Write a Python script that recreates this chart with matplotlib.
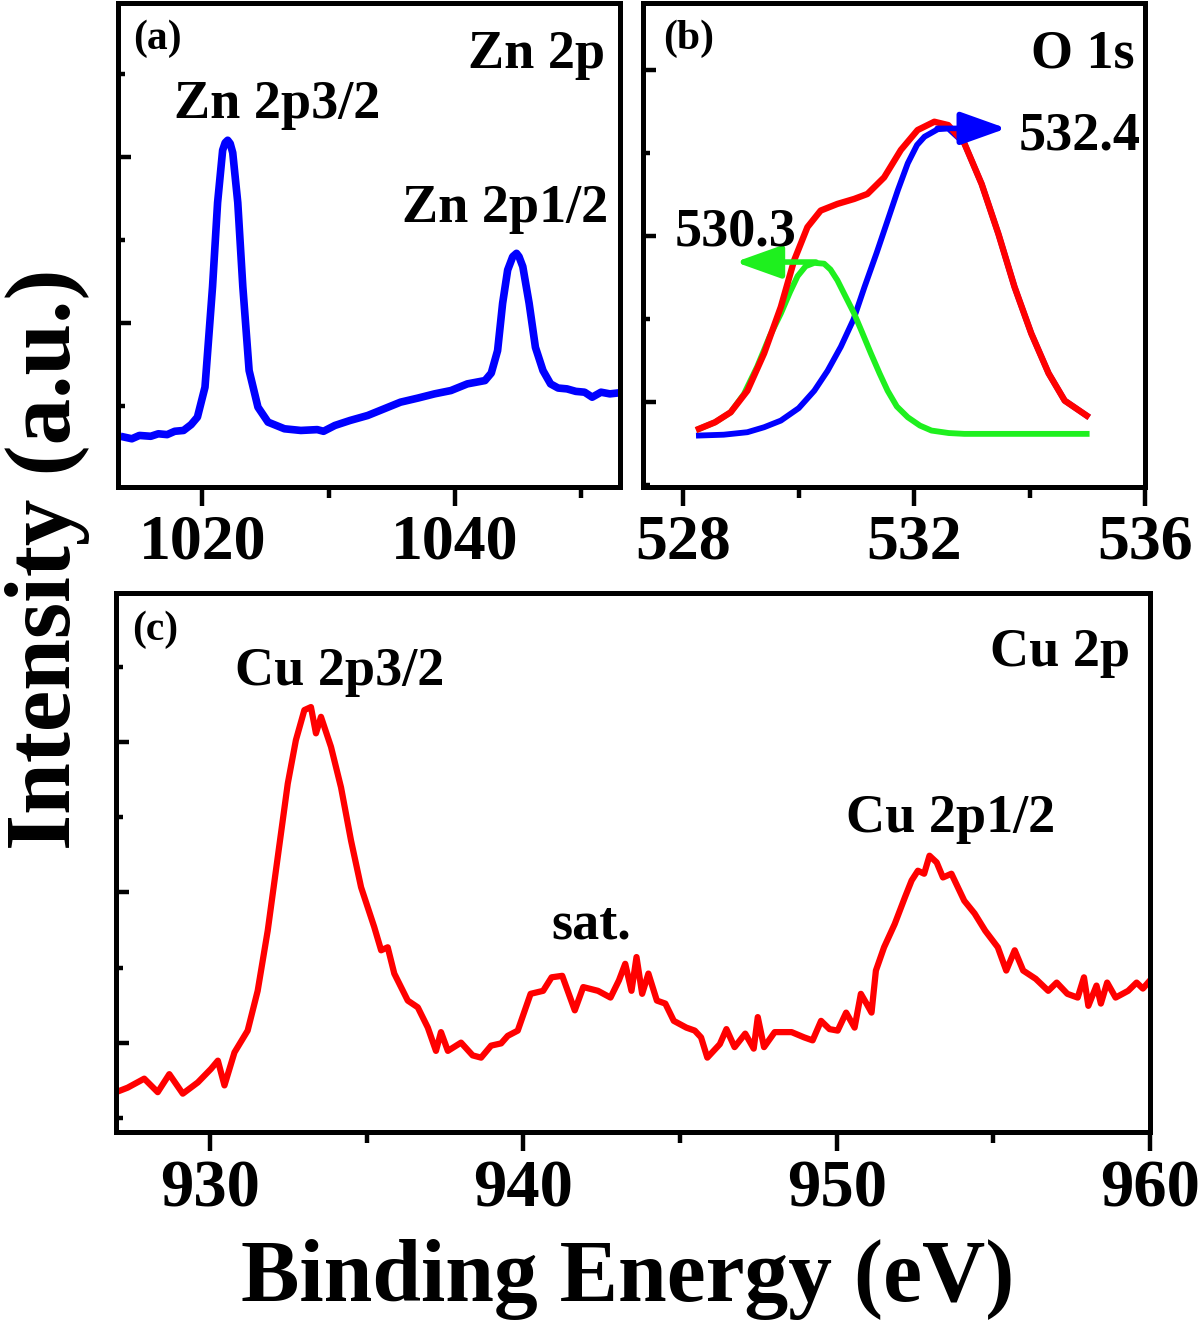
import matplotlib
matplotlib.use('Agg')
import matplotlib.pyplot as plt
from matplotlib.ticker import MultipleLocator

plt.rcParams['font.family'] = 'Liberation Serif'
plt.rcParams['font.weight'] = 'bold'

# ----- (a) Zn 2p -----
zn_e = [1013.8, 1014.4, 1015.0, 1015.9, 1016.5, 1017.2, 1017.8, 1018.5, 1019.1, 1019.6,
        1020.2, 1020.8, 1021.2, 1021.6, 1021.8, 1022.0, 1022.2, 1022.4, 1022.8, 1023.2,
        1023.7, 1024.4, 1025.2, 1026.5, 1027.8, 1029.1, 1029.6, 1030.5, 1031.7, 1033.1,
        1034.4, 1035.7, 1037.1, 1038.4, 1039.7, 1041.0, 1042.4, 1042.9, 1043.4, 1043.8,
        1044.2, 1044.6, 1044.9, 1045.1, 1045.4, 1045.9, 1046.4, 1047.0, 1047.6, 1048.2,
        1048.9, 1049.6, 1050.3, 1050.9, 1051.6, 1052.3, 1052.9]
zn_i = [0.63, 0.61, 0.65, 0.64, 0.67, 0.66, 0.70, 0.71, 0.78, 0.87,
        1.23, 2.44, 3.45, 4.08, 4.17, 4.20, 4.16, 4.05, 3.45, 2.44,
        1.43, 0.99, 0.81, 0.73, 0.71, 0.72, 0.70, 0.77, 0.83, 0.89,
        0.97, 1.05, 1.10, 1.15, 1.19, 1.27, 1.31, 1.40, 1.67, 2.24,
        2.64, 2.80, 2.84, 2.80, 2.68, 2.24, 1.71, 1.43, 1.27, 1.22,
        1.21, 1.18, 1.17, 1.11, 1.17, 1.15, 1.16]

# ----- (b) O 1s -----
o_sum_e = [528.27, 528.55, 528.82, 529.11, 529.40, 529.69, 529.92, 530.15, 530.38, 530.67,
           530.96, 531.19, 531.48, 531.77, 532.06, 532.35, 532.59, 532.87, 533.17, 533.46,
           533.74, 534.03, 534.33, 534.61, 534.99]
o_sum_i = [1.68, 1.76, 1.88, 2.14, 2.59, 3.15, 3.71, 4.11, 4.31, 4.39,
           4.45, 4.51, 4.71, 5.04, 5.28, 5.38, 5.34, 5.12, 4.63, 4.03,
           3.39, 2.83, 2.35, 2.02, 1.84]
o_hi_e = [528.27, 528.70, 529.11, 529.40, 529.69, 530.00, 530.27, 530.50, 530.73, 530.95,
          531.14, 531.35, 531.54, 531.72, 531.89, 532.05, 532.18, 532.41, 532.59, 532.87,
          533.17, 533.46, 533.74, 534.03, 534.33, 534.61, 534.99]
o_hi_i = [1.60, 1.61, 1.64, 1.70, 1.78, 1.93, 2.14, 2.38, 2.67, 3.00,
          3.39, 3.80, 4.19, 4.56, 4.88, 5.10, 5.20, 5.29, 5.30, 5.12,
          4.63, 4.03, 3.39, 2.83, 2.35, 2.02, 1.84]
o_lo_e = [528.27, 528.55, 528.82, 529.05, 529.28, 529.50, 529.69, 529.85, 529.98, 530.12,
          530.27, 530.44, 530.55, 530.67, 530.80, 530.96, 531.10, 531.25, 531.40, 531.54,
          531.70, 531.89, 532.10, 532.30, 532.60, 532.87, 533.50, 534.20, 534.99]
o_lo_i = [1.68, 1.76, 1.88, 2.10, 2.43, 2.80, 3.07, 3.33, 3.52, 3.64,
          3.68, 3.67, 3.60, 3.47, 3.29, 3.07, 2.84, 2.59, 2.35, 2.14,
          1.95, 1.82, 1.72, 1.66, 1.63, 1.62, 1.62, 1.62, 1.62]
o_peaks = [530.3, 532.4]

# ----- (c) Cu 2p -----
cu_e = [927.0, 927.37, 927.9, 928.33, 928.70, 929.13, 929.61, 930.03, 930.25, 930.46,
        930.78, 931.20, 931.52, 931.84, 932.16, 932.48, 932.74, 933.01, 933.22, 933.38,
        933.54, 933.86, 934.18, 934.50, 934.82, 935.24, 935.46, 935.67, 935.88, 936.31,
        936.63, 936.95, 937.21, 937.37, 937.59, 938.01, 938.38, 938.65, 938.97, 939.29,
        939.50, 939.82, 940.23, 940.63, 940.90, 941.24, 941.64, 941.91, 942.38, 942.78,
        943.05, 943.25, 943.45, 943.61, 943.79, 943.99, 944.26, 944.53, 944.80, 945.20,
        945.47, 945.67, 945.87, 946.27, 946.48, 946.74, 947.08, 947.35, 947.48, 947.68,
        948.02, 948.56, 948.96, 949.23, 949.50, 949.77, 950.03, 950.30, 950.57, 950.77,
        950.95, 951.11, 951.25, 951.51, 951.85, 952.18, 952.39, 952.59, 952.79, 952.96,
        953.19, 953.39, 953.66, 954.07, 954.40, 954.74, 955.14, 955.41, 955.68, 955.95,
        956.35, 956.75, 957.02, 957.36, 957.69, 957.89, 958.03, 958.29, 958.43, 958.63,
        958.90, 959.30, 959.57, 959.77, 960.0]
cu_i = [1.34, 1.40, 1.52, 1.34, 1.58, 1.32, 1.47, 1.65, 1.76, 1.43,
        1.87, 2.16, 2.69, 3.49, 4.47, 5.45, 6.03, 6.43, 6.47, 6.12,
        6.34, 5.94, 5.40, 4.69, 4.07, 3.54, 3.23, 3.27, 2.92, 2.56,
        2.47, 2.20, 1.89, 2.14, 1.89, 2.00, 1.83, 1.80, 1.96, 1.99,
        2.09, 2.16, 2.65, 2.69, 2.87, 2.89, 2.43, 2.74, 2.69, 2.60,
        2.83, 3.05, 2.69, 3.14, 2.65, 2.92, 2.56, 2.52, 2.29, 2.20,
        2.16, 2.07, 1.80, 1.98, 2.18, 1.94, 2.12, 1.92, 2.34, 1.94,
        2.14, 2.14, 2.07, 2.03, 2.29, 2.18, 2.16, 2.40, 2.20, 2.65,
        2.52, 2.40, 2.96, 3.27, 3.58, 3.94, 4.16, 4.29, 4.25, 4.49,
        4.40, 4.20, 4.25, 3.89, 3.72, 3.49, 3.27, 2.96, 3.23, 2.96,
        2.85, 2.69, 2.80, 2.65, 2.60, 2.87, 2.49, 2.76, 2.52, 2.80,
        2.60, 2.69, 2.80, 2.72, 2.83]

BLUE, RED, GREEN = '#0000ff', '#ff0000', '#1ef01e'
SPINE = 3.6

fig = plt.figure(figsize=(12, 13.23), dpi=100)
ax_a = fig.add_axes([0.0983, 0.6319, 0.4183, 0.3658])
ax_b = fig.add_axes([0.5358, 0.6319, 0.4183, 0.3658])
ax_c = fig.add_axes([0.0967, 0.1444, 0.8617, 0.4074])


def style(ax, xmaj, xmin, ymaj, fs):
    for s in ax.spines.values():
        s.set_linewidth(SPINE)
    ax.xaxis.set_major_locator(MultipleLocator(xmaj))
    ax.xaxis.set_minor_locator(MultipleLocator(xmin))
    ax.yaxis.set_major_locator(MultipleLocator(ymaj))
    ax.yaxis.set_minor_locator(MultipleLocator(ymaj / 2))
    ax.tick_params(axis='x', which='major', direction='out', length=14, width=3.2,
                   labelsize=fs, pad=6)
    ax.tick_params(axis='x', which='minor', direction='out', length=8, width=3.2)
    ax.tick_params(axis='y', which='major', direction='in', length=9, width=3.2,
                   labelleft=False)
    ax.tick_params(axis='y', which='minor', direction='in', length=5, width=3.2)


# (a)
ax_a.plot(zn_e, zn_i, color=BLUE, lw=5.5, solid_joinstyle='round')
ax_a.set_xlim(1013.3, 1053.1)
ax_a.set_ylim(0.03, 5.85)
style(ax_a, 20, 10, 2, 46)
ax_a.text(0.03, 0.965, '(a)', transform=ax_a.transAxes, fontsize=30, va='top')
ax_a.text(0.97, 0.866, 'Zn 2p', transform=ax_a.transAxes, fontsize=39, ha='right',
          va='baseline')
ax_a.text(1025.9, 4.47, 'Zn 2p3/2', fontsize=39, ha='center', va='baseline')
ax_a.text(1044.0, 3.22, 'Zn 2p1/2', fontsize=39, ha='center', va='baseline')

# (b)
ax_b.plot(o_hi_e, o_hi_i, color=BLUE, lw=4.2, solid_joinstyle='round')
ax_b.plot(o_lo_e, o_lo_i, color=GREEN, lw=4.2, solid_joinstyle='round')
ax_b.plot(o_sum_e, o_sum_i, color=RED, lw=4.6, solid_joinstyle='round')
head = '-|>,head_length=0.7,head_width=0.25'
ax_b.annotate('', xy=(528.9, 3.69), xytext=(o_peaks[0], 3.69),
              arrowprops=dict(arrowstyle=head, color=GREEN, lw=4, mutation_scale=40,
                              shrinkA=0, shrinkB=0))
ax_b.annotate('', xy=(533.6, 5.30), xytext=(o_peaks[1], 5.30),
              arrowprops=dict(arrowstyle=head, color=BLUE, lw=4, mutation_scale=40,
                              shrinkA=0, shrinkB=0))
ax_b.text(528.9, 3.89, f'{o_peaks[0]:.1f}', fontsize=39, ha='center', va='baseline')
ax_b.text(534.87, 5.04, f'{o_peaks[1]:.1f}', fontsize=39, ha='center', va='baseline')
ax_b.set_xlim(527.3, 536.0)
ax_b.set_ylim(0.98, 6.81)
style(ax_b, 4, 2, 2, 46)
ax_b.text(0.04, 0.965, '(b)', transform=ax_b.transAxes, fontsize=30, va='top')
ax_b.text(0.98, 0.866, 'O 1s', transform=ax_b.transAxes, fontsize=39, ha='right',
          va='baseline')

# (c)
ax_c.plot(cu_e, cu_i, color=RED, lw=4.5, solid_joinstyle='round')
ax_c.set_xlim(927.0, 960.0)
ax_c.set_ylim(0.81, 7.99)
style(ax_c, 10, 5, 2, 48)
ax_c.text(0.016, 0.967, '(c)', transform=ax_c.transAxes, fontsize=30, va='top')
ax_c.text(0.981, 0.865, 'Cu 2p', transform=ax_c.transAxes, fontsize=39, ha='right',
          va='baseline')
ax_c.text(934.15, 6.76, 'Cu 2p3/2', fontsize=39, ha='center', va='baseline')
ax_c.text(942.16, 3.39, 'sat.', fontsize=39, ha='center', va='baseline')
ax_c.text(953.65, 4.81, 'Cu 2p1/2', fontsize=39, ha='center', va='baseline')

fig.text(0.04, 0.5775, 'Intensity (a.u.)', rotation=90, fontsize=67, ha='center',
         va='center')
fig.text(0.523, 0.017, 'Binding Energy (eV)', fontsize=63, ha='center', va='baseline')

fig.savefig('out.png', dpi=100)
